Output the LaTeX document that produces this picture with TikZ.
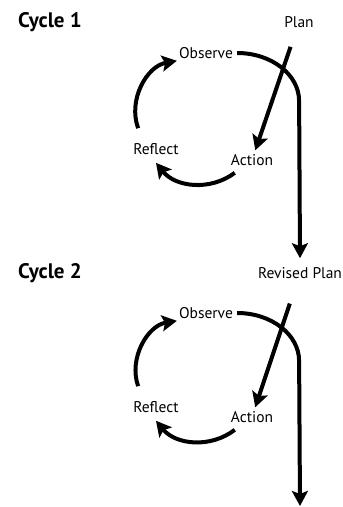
\documentclass[tikz,border=0pt]{standalone}
\usepackage{fontspec}
\setmainfont{PT Sans}
\usetikzlibrary{arrows.meta}
\tikzstyle{phase} = [inner sep=2pt, font=\fontsize{15.5}{18}\selectfont]
\tikzstyle{cyclelabel} = [inner sep=2pt, font=\bfseries\fontsize{21}{24}\selectfont]
\tikzstyle{arrow} = [line width=4pt, -{Stealth[length=15pt, width=16pt, inset=3pt]}]

\begin{document}
\begin{tikzpicture}[x=1pt, y=1pt, node distance=2.5cm]
\useasboundingbox (0,0) rectangle (343,507);

%% NODES

\node (cycle1) [cyclelabel] at (50,485) {Cycle 1};
\node (plan1) [phase, right of=cycle1, node distance=249pt] {Plan};
\node (observe1) [phase, below of=plan1, node distance=31pt, xshift=-93pt] {Observe};
\node (action1) [phase, below of=observe1, node distance=107pt, xshift=46pt] {Action};
\node (reflect1) [phase, left of=action1, node distance=96pt, yshift=11pt] {Reflect};

\node (cycle2) [cyclelabel, below of=cycle1, node distance=251pt] {Cycle 2};
\node (revplan) [phase, right of=cycle2, node distance=250pt] {Revised Plan};
\node (observe2) [phase, below of=revplan, node distance=40pt, xshift=-94pt] {Observe};
\node (action2) [phase, below of=observe2, node distance=104pt, xshift=46pt] {Action};
\node (reflect2) [phase, left of=action2, node distance=96pt, yshift=10pt] {Reflect};
\coordinate (end2) at ([yshift=-233pt]revplan.center);

%% ARROWS

\draw [arrow, shorten <=18pt, shorten >=2pt] (plan1) -- (action1);
\draw [arrow] ([xshift=2pt]observe1.east) arc[start angle=90, end angle=0, x radius=62pt, y radius=48pt] -- ([yshift=7pt]revplan.north);
\draw [arrow] ([xshift=6pt,yshift=-5pt]action1.south west) to[bend left=44] ([yshift=-6pt]reflect1.south);
\draw [arrow] ([xshift=7pt,yshift=13pt]reflect1.north west) to[bend left=50] (observe1.south west);

\draw [arrow, shorten <=24pt, shorten >=2pt] (revplan) -- (action2);
\draw [arrow] ([xshift=2pt]observe2.east) arc[start angle=90, end angle=0, x radius=62pt, y radius=48pt] -- (end2);
\draw [arrow] ([xshift=6pt,yshift=-5pt]action2.south west) to[bend left=44] ([yshift=-6pt]reflect2.south);
\draw [arrow] ([xshift=7pt,yshift=13pt]reflect2.north west) to[bend left=50] (observe2.south west);

\end{tikzpicture}
\end{document}
